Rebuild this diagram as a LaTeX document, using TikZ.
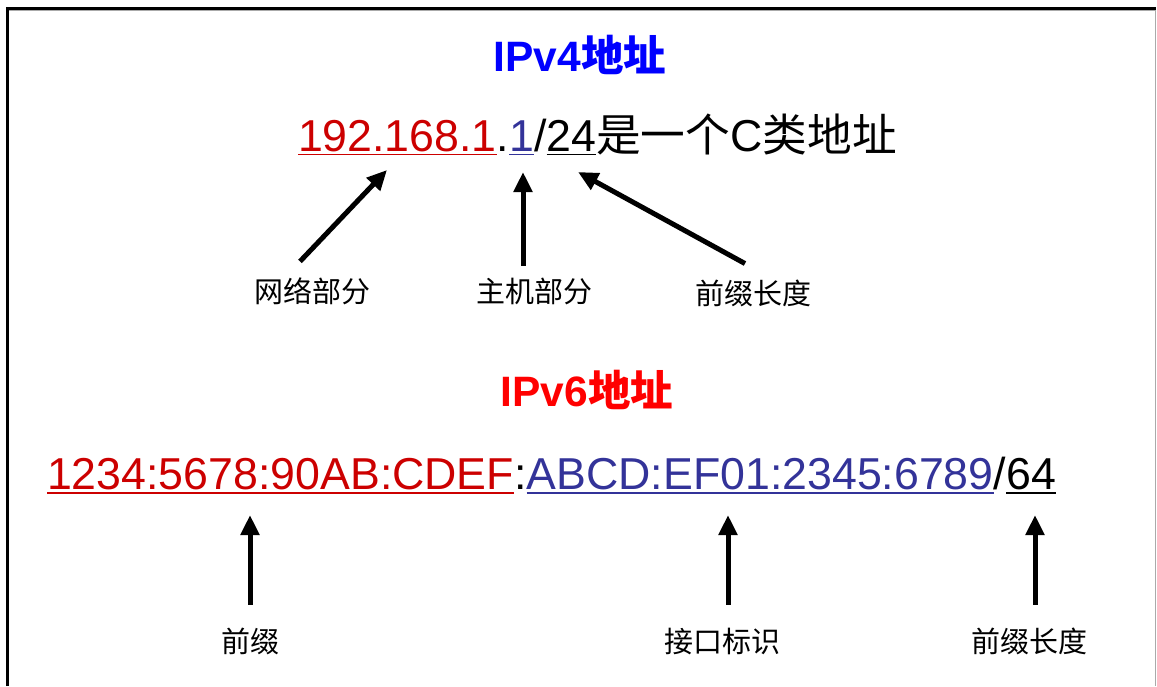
\documentclass[tikz,border=0pt]{standalone}
\usepackage{fontspec}
\setmainfont{Liberation Sans}
\newfontfamily\cjk{Noto Sans CJK SC}
\usetikzlibrary{arrows.meta}
\definecolor{ired}{RGB}{204,0,0}
\definecolor{iblue}{RGB}{51,51,153}
\definecolor{tblue}{RGB}{0,0,255}
\definecolor{tred}{RGB}{255,0,0}
\definecolor{fgray}{RGB}{170,170,170}
\begin{document}
\begin{tikzpicture}[x=1pt,y=-1pt,
  every node/.style={inner sep=0pt, outer sep=0pt},
  big/.style={font=\fontsize{44.7}{50}\selectfont, anchor=base west},
  lbl/.style={font=\fontsize{29}{34}\selectfont\cjk},
  ttl/.style={font=\fontsize{42.5}{48}\selectfont\bfseries},
  arr/.style={line width=5pt, -{Triangle[length=20pt,width=18pt]}},
  ul/.style={line width=1.4pt}]
\useasboundingbox (0,0) rectangle (1157,686);
% frame
\draw[fgray, line width=1.5pt] (8,10) -- (1155.5,10) -- (1155.5,686);
\draw[black, line width=3pt] (7,686) -- (7,8) -- (1156,8);

% IPv4
\node[ttl, text=tblue] (t4) at (580,55) {IPv4{\cjk 地址}};
\node[big, text=ired] (n1) at (298,151) {192.168.1};
\node[big] (n2) at (n1.base east) {.};
\node[big, text=iblue] (n3) at (n2.base east) {1};
\node[big] (n4) at (n3.base east) {/};
\node[big] (n5) at (n4.base east) {24};
\node[big] (n6) at (n5.base east) {{\cjk 是一个}C{\cjk 类地址}};
\draw[ul, ired] ([yshift=-3.5pt]n1.base west) -- ([yshift=-3.5pt]n1.base east);
\draw[ul, iblue] ([yshift=-3.5pt]n3.base west) -- ([yshift=-3.5pt]n3.base east);
\draw[ul, black] ([yshift=-3.5pt]n5.base west) -- ([yshift=-3.5pt]n5.base east);

\node[lbl] (l1) at (312,291) {网络部分};
\node[lbl] (l2) at (534,291) {主机部分};
\node[lbl] (l3) at (753,293) {前缀长度};
\coordinate (h1) at (387,170);
\coordinate (h2) at (523,172);
\coordinate (h3) at (578,172);
\draw[arr] ([xshift=-12pt,yshift=16pt]l1.north) -- (h1);
\draw[arr] ([xshift=-11pt,yshift=12pt]l2.north) -- (h2);
\draw[arr] ([xshift=-8pt,yshift=16pt]l3.north) -- (h3);

% IPv6
\node[ttl, text=tred] (t6) at (587,390) {IPv6{\cjk 地址}};
\node[big, text=ired] (m1) at (47,489) {1234:5678:90AB:CDEF};
\node[big] (m2) at (m1.base east) {:};
\node[big, text=iblue] (m3) at (m2.base east) {ABCD:EF01:2345:6789};
\node[big] (m4) at (m3.base east) {/};
\node[big] (m5) at (m4.base east) {64};
\draw[ul, ired] ([yshift=-4pt]m1.base west) -- ([yshift=-4pt]m1.base east);
\draw[ul, iblue] ([yshift=-4pt]m3.base west) -- ([yshift=-4pt]m3.base east);
\draw[ul, black] ([yshift=-4pt]m5.base west) -- ([yshift=-4pt]m5.base east);

\node[lbl] (l4) at (250,641) {前缀};
\node[lbl] (l5) at (722,641) {接口标识};
\node[lbl] (l6) at (1029,641) {前缀长度};
\coordinate (h4) at (250,515);
\coordinate (h5) at (728,515);
\coordinate (h6) at (1035,515);
\draw[arr] ([yshift=23pt]l4.north) -- (h4);
\draw[arr] ([xshift=6pt,yshift=23pt]l5.north) -- (h5);
\draw[arr] ([xshift=6pt,yshift=23pt]l6.north) -- (h6);
\end{tikzpicture}
\end{document}
